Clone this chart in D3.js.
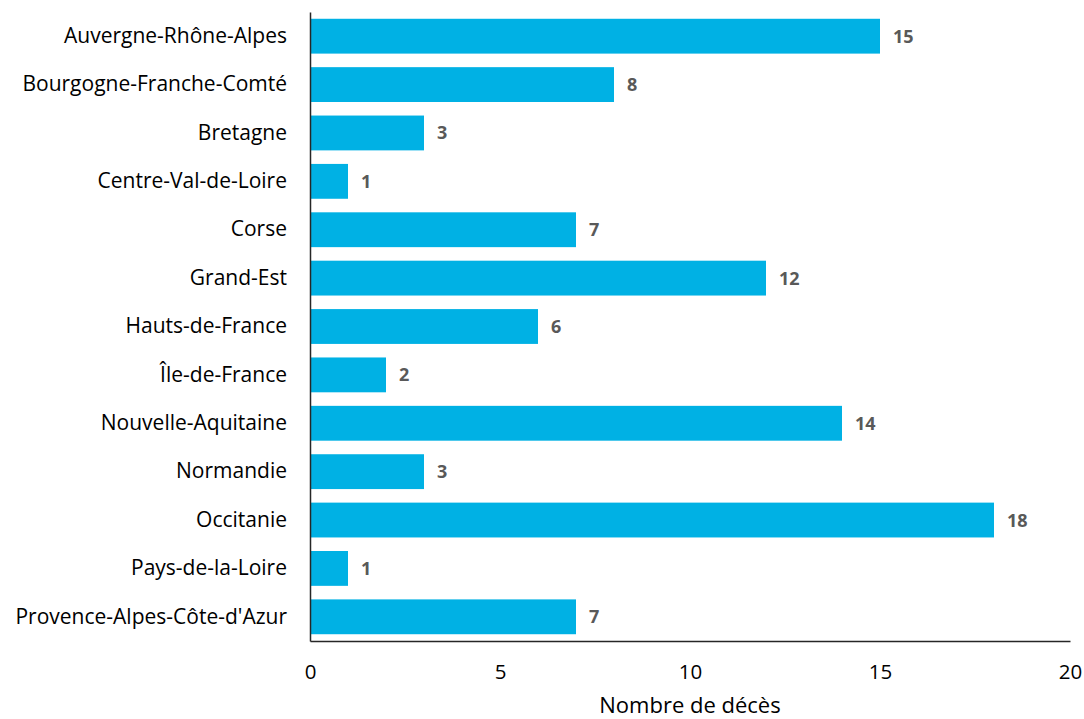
<!DOCTYPE html>
<html>
<head>
<meta charset="utf-8">
<script src="https://cdn.jsdelivr.net/npm/d3@7"></script>
<style>
  body { margin: 0; background: #fff; }
  svg text { font-family: "Open Sans", sans-serif; }
</style>
</head>
<body>
<div id="chart"></div>
<script>
const regions = [
  "Auvergne-Rhône-Alpes", "Bourgogne-Franche-Comté", "Bretagne", "Centre-Val-de-Loire",
  "Corse", "Grand-Est", "Hauts-de-France", "Île-de-France", "Nouvelle-Aquitaine",
  "Normandie", "Occitanie", "Pays-de-la-Loire", "Provence-Alpes-Côte-d'Azur"
];
const deces = [15, 8, 3, 1, 7, 12, 6, 2, 14, 3, 18, 1, 7];
const xTicks = [0, 5, 10, 15, 20];
const xTitle = "Nombre de décès";

let width = 1084, height = 719;
let margin = { top: 12, right: 14, bottom: 78, left: 310 };

let svg = d3.select("#chart").append("svg")
    .attr("width", width)
    .attr("height", height);

let x = d3.scaleLinear()
    .domain([0, 20])
    .range([margin.left, width - margin.right]);

let y = d3.scaleBand()
    .domain(regions)
    .range([margin.top, height - margin.bottom])
    .paddingInner(0.28)
    .paddingOuter(0.14);

// bars
svg.append("g")
    .selectAll("rect")
    .data(regions)
    .enter().append("rect")
    .attr("x", x(0))
    .attr("y", d => y(d))
    .attr("width", (d, i) => x(deces[i]) - x(0))
    .attr("height", y.bandwidth())
    .attr("fill", "#00b1e4");

// value labels
svg.append("g")
    .selectAll("text")
    .data(regions)
    .enter().append("text")
    .attr("x", (d, i) => x(deces[i]) + 13)
    .attr("y", d => y(d) + y.bandwidth() / 2)
    .attr("dy", "0.36em")
    .attr("font-size", 18)
    .attr("font-weight", "bold")
    .attr("fill", "#595959")
    .text((d, i) => deces[i]);

// y axis
let gY = svg.append("g")
    .attr("transform", `translate(${x(0)},0)`)
    .call(d3.axisLeft(y).tickSize(0).tickPadding(23));
gY.select(".domain").attr("stroke", "#262626").attr("stroke-width", 1.5);
gY.selectAll("text").attr("font-size", 21).attr("fill", "#000");

// x axis
let gX = svg.append("g")
    .attr("transform", `translate(0,${height - margin.bottom})`)
    .call(d3.axisBottom(x).tickValues(xTicks).tickSize(0).tickPadding(23));
gX.select(".domain").attr("stroke", "#262626").attr("stroke-width", 1.5);
gX.selectAll("text").attr("font-size", 20.5).attr("fill", "#000");

svg.append("text")
    .attr("x", (x(0) + x(20)) / 2)
    .attr("y", 713)
    .attr("text-anchor", "middle")
    .attr("font-size", 22)
    .attr("fill", "#000")
    .text(xTitle);
</script>
</body>
</html>
